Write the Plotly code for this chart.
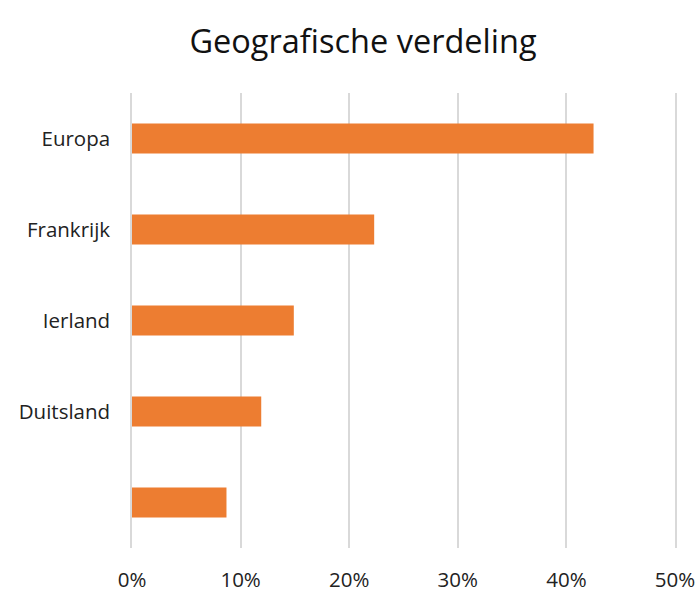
import plotly.graph_objects as go

categories = ["Europa", "Frankrijk", "Ierland", "Duitsland", " "]
values = [0.425, 0.223, 0.149, 0.119, 0.087]
tick_vals = [0, 0.1, 0.2, 0.3, 0.4, 0.5]
tick_text = ["0%", "10%", "20%", "30%", "40%", "50%"]

W, H = 699, 593

fig = go.Figure(go.Bar(
    x=values, y=categories, orientation="h",
    marker=dict(color="#ED7D31", line=dict(width=0)),
    width=0.33,
))

fig.update_layout(
    width=W, height=H,
    paper_bgcolor="white", plot_bgcolor="white",
    margin=dict(l=132, r=24, t=93, b=45),
    title=dict(text="Geografische verdeling", x=363/W, xanchor="center",
               y=1 - 42/H, yanchor="middle",
               font=dict(family="Open Sans", size=32.5, color="#111")),
    font=dict(family="Open Sans", size=21, color="#222"),
    showlegend=False,
    bargap=0.67,
)
fig.update_xaxes(range=[0, 0.5], tickvals=tick_vals, ticktext=tick_text,
                 showgrid=True, gridcolor="#d9d9d9", gridwidth=1.5,
                 zeroline=False, showline=False, ticks="", ticklen=0,
                 tickfont=dict(size=20.5), automargin=False,
                 ticklabelstandoff=17)
fig.update_yaxes(categoryorder="array", categoryarray=categories,
                 autorange="reversed", showgrid=False, zeroline=False,
                 showline=True, mirror=True, linecolor="#d9d9d9", linewidth=1.5,
                 ticks="outside", ticklen=16, tickcolor="rgba(0,0,0,0)",
                 tickfont=dict(size=20.5), automargin=False)

fig.write_html("out.html",
               config={"displayModeBar": False},
               post_script="document.body.style.margin='0';document.body.style.overflow='hidden';")
